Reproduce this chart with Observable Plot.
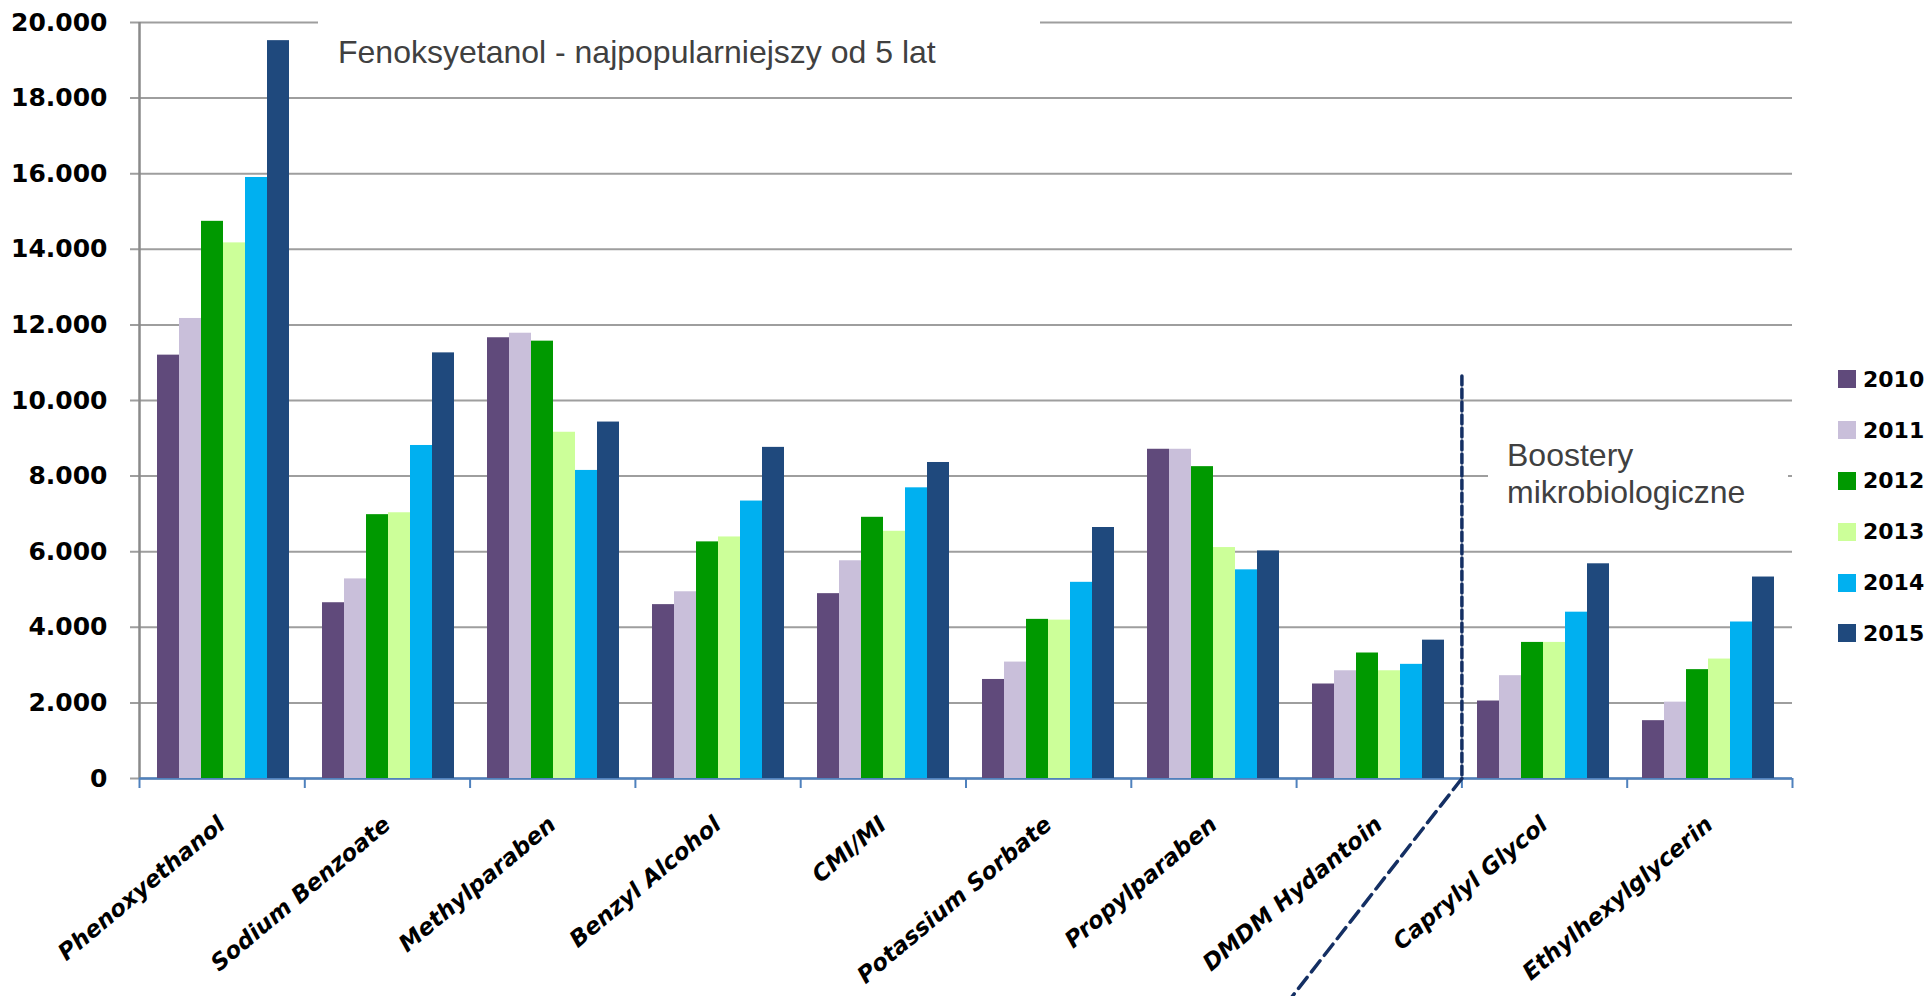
<!DOCTYPE html>
<html><head><meta charset="utf-8">
<script src="https://cdn.jsdelivr.net/npm/d3@7"></script>
<script src="https://cdn.jsdelivr.net/npm/@observablehq/plot@0.6"></script>
<style>
body{margin:0;background:#fff;}
#wrap{position:relative;width:1930px;height:996px;overflow:hidden;background:#fff;}
#wrap svg{position:absolute;left:0;top:0;}
.note{position:absolute;background:#fff;font-family:"Liberation Sans",Arial,sans-serif;font-size:32px;color:#404040;white-space:nowrap;box-sizing:border-box;}
#legend{position:absolute;left:1838px;top:354px;font-family:"DejaVu Sans",sans-serif;font-weight:bold;font-size:22px;color:#000;}
.item{display:flex;align-items:center;height:50.8px;}
.sw{width:18px;height:18px;margin-right:7px;}
</style></head>
<body><div id="wrap"></div>
<script>
// ---- data ----
const categories = ["Phenoxyethanol", "Sodium Benzoate", "Methylparaben", "Benzyl Alcohol", "CMI/MI",
  "Potassium Sorbate", "Propylparaben", "DMDM Hydantoin", "Caprylyl Glycol", "Ethylhexylglycerin"];
const years = ["2010", "2011", "2012", "2013", "2014", "2015"];
const v2010 = [11200, 4650, 11660, 4600, 4890, 2620, 8710, 2500, 2050, 1530];
const v2011 = [12170, 5280, 11780, 4940, 5760, 3080, 8710, 2850, 2720, 2020];
const v2012 = [14740, 6980, 11570, 6260, 6910, 4210, 8250, 3320, 3600, 2880];
const v2013 = [14170, 7030, 9160, 6390, 6540, 4190, 6110, 2850, 3600, 3160];
const v2014 = [15900, 8810, 8150, 7340, 7690, 5190, 5520, 3020, 4400, 4140];
const v2015 = [19520, 11260, 9430, 8760, 8360, 6640, 6020, 3660, 5680, 5330];
const yTicks = [0, 2000, 4000, 6000, 8000, 10000, 12000, 14000, 16000, 18000, 20000];
const colors = ["#604A7B", "#C9BFDA", "#009900", "#CCFF99", "#00B0F0", "#1F497D"];
const noteTop = "Fenoksyetanol - najpopularniejszy od 5 lat";
const noteBoost = ["Boostery", "mikrobiologiczne"];
// annotation: divider after this category
const dividerAfter = "DMDM Hydantoin";
const dividerTop = 10650;
const dividerBottom = -5900;
const dividerSlant = 1.05;

const series = [v2010, v2011, v2012, v2013, v2014, v2015];
const data = [];
categories.forEach((c, i) => years.forEach((yr, j) => data.push({category: c, year: yr, value: series[j][i]})));

const fmt = d3.formatLocale({decimal: ",", thousands: ".", grouping: [3], currency: ["", ""]}).format(",d");

const frame = {width: 1930, height: 996, marginLeft: 139, marginRight: 138, marginTop: 22, marginBottom: 218};
const n = categories.length;
const bounds = d3.range(n + 1);
const dIdx = categories.indexOf(dividerAfter) + 1;

// background layer: grid, axes, labels, divider (x in category-step units)
const back = Plot.plot({
  ...frame,
  style: {background: "transparent", fontFamily: "DejaVu Sans"},
  x: {domain: [0, n], axis: null, label: null},
  y: {domain: [0, 20000], axis: null, label: null},
  marks: [
    Plot.ruleY(yTicks, {stroke: "#9e9e9e", strokeWidth: 2, insetLeft: -9}),
    Plot.ruleX([0], {stroke: "#8a8a8a", strokeWidth: 2.5}),
    Plot.ruleY([0], {stroke: "#4F81BD", strokeWidth: 2.5}),
    Plot.ruleX(bounds, {x: d => d, y1: 0, y2: 0, insetBottom: -10, stroke: "#4F81BD", strokeWidth: 2}),
    Plot.text(yTicks, {y: d => d, frameAnchor: "left", text: d => fmt(d), textAnchor: "end",
      dx: -32, fontSize: 25, fontWeight: "bold", fill: "#000", fontFamily: "DejaVu Sans"}),
    Plot.text(categories, {x: (d, i) => i + 0.5, text: d => d, frameAnchor: "bottom", rotate: -40, textAnchor: "end",
      lineAnchor: "top", dx: -6, dy: 36, fontSize: 23, fontWeight: "bold", fontStyle: "italic",
      fill: "#000", fontFamily: "DejaVu Sans"}),
    Plot.line([{x: dIdx, y: dividerTop}, {x: dIdx, y: 0}], {x: "x", y: "y", stroke: "#142F63", strokeWidth: 3.5, strokeDasharray: "9,4"}),
    Plot.line([{x: dIdx, y: 0}, {x: dIdx - dividerSlant, y: dividerBottom}], {x: "x", y: "y", stroke: "#142F63", strokeWidth: 3.5, strokeDasharray: "14,7"})
  ]
});

// bar layer: grouped bars via fx facets
const bars = Plot.plot({
  ...frame,
  style: {background: "transparent", fontFamily: "DejaVu Sans"},
  fx: {domain: categories, paddingInner: 0.2, paddingOuter: 0.1, axis: null, label: null},
  x: {domain: years, padding: 0, axis: null, label: null},
  y: {domain: [0, 20000], axis: null, label: null},
  color: {domain: years, range: colors},
  marks: [
    Plot.barY(data, {fx: "category", x: "year", y: "value", fill: "year"})
  ]
});

const wrap = document.getElementById("wrap");
wrap.appendChild(back);
wrap.appendChild(bars);

// text boxes (slide annotations)
const n1 = document.createElement("div");
n1.className = "note";
Object.assign(n1.style, {left: "318px", top: "8px", width: "722px", height: "80px", paddingLeft: "20px", paddingTop: "28px", lineHeight: "32px"});
n1.textContent = noteTop;
wrap.appendChild(n1);
const n2 = document.createElement("div");
n2.className = "note";
Object.assign(n2.style, {left: "1488px", top: "418px", width: "300px", height: "120px", paddingLeft: "19px", paddingTop: "19px", lineHeight: "37px"});
noteBoost.forEach(t => { const d = document.createElement("div"); d.textContent = t; n2.appendChild(d); });
wrap.appendChild(n2);

// legend
const lg = document.createElement("div");
lg.id = "legend";
years.forEach((yr, i) => {
  const it = document.createElement("div"); it.className = "item";
  const sw = document.createElement("span"); sw.className = "sw"; sw.style.background = colors[i];
  const tx = document.createElement("span"); tx.textContent = yr;
  it.appendChild(sw); it.appendChild(tx); lg.appendChild(it);
});
wrap.appendChild(lg);
</script></body></html>
